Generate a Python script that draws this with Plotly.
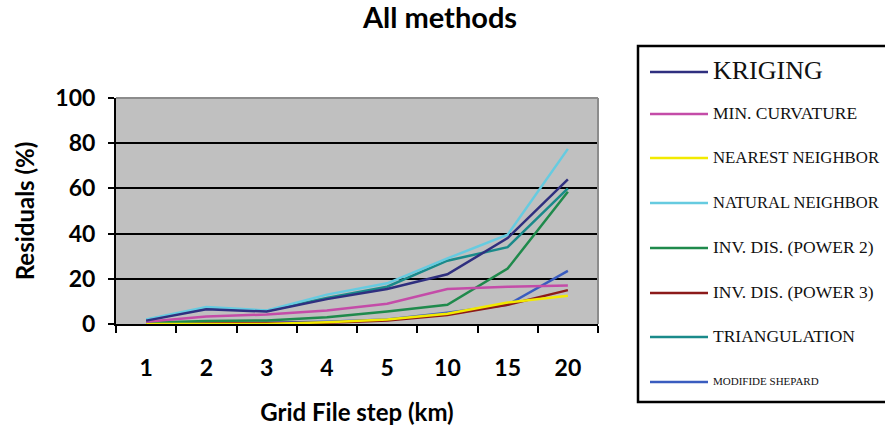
import plotly.graph_objects as go

# Grid step categories (km)
steps = ["1", "2", "3", "4", "5", "10", "15", "20"]

# Residuals (%) per interpolation method
kriging = [1.5, 6.5, 5.5, 11.0, 15.5, 22.0, 38.0, 64.0]
min_curvature = [1.0, 3.3, 4.2, 6.0, 9.0, 15.5, 16.5, 17.0]
nearest_neighbor = [0.0, 0.0, 0.0, 0.8, 2.0, 4.5, 9.5, 12.5]
natural_neighbor = [2.0, 7.5, 6.0, 13.0, 18.0, 29.0, 39.5, 77.5]
inv_dis_p2 = [0.5, 1.3, 1.6, 3.0, 5.5, 8.5, 24.5, 58.5]
inv_dis_p3 = [0.1, 0.2, 0.3, 0.6, 1.5, 4.0, 8.5, 15.0]
triangulation = [1.8, 7.0, 5.8, 11.5, 16.5, 28.0, 34.0, 60.0]
modified_shepard = [0.2, 0.3, 0.5, 1.0, 2.0, 5.0, 8.5, 23.5]

series = [
    ("KRIGING", kriging, "#2f2f7f", 26),
    ("MIN. CURVATURE", min_curvature, "#c44ca8", 17.5),
    ("NEAREST NEIGHBOR", nearest_neighbor, "#f2ea00", 16.8),
    ("NATURAL NEIGHBOR", natural_neighbor, "#66cbe0", 16.5),
    ("INV. DIS. (POWER 2)", inv_dis_p2, "#1f8a4c", 17.5),
    ("INV. DIS. (POWER 3)", inv_dis_p3, "#8c1a1a", 17.5),
    ("TRIANGULATION", triangulation, "#1a8a8a", 17.5),
    ("MODIFIDE SHEPARD", modified_shepard, "#3a5cbf", 11),
]

W, H = 885, 433
L, R, T, B = 116, 598, 98, 324  # plot area edges in pixels


def px_x(px):
    return (px - L) / (R - L)


def px_y(py):
    return (B - py) / (B - T)


fig = go.Figure()
# draw in reverse so KRIGING sits on top
for name, vals, color, _ in reversed(series):
    fig.add_trace(go.Scatter(
        x=steps, y=vals, name=name, mode="lines",
        line=dict(color=color, width=2.5), showlegend=False,
    ))

shapes = [
    # light frame on top and right of plot area (covers the 100 gridline)
    dict(type="line", xref="paper", yref="paper", x0=0, x1=1, y0=1, y1=1,
         line=dict(color="#8c8c8c", width=2), layer="above"),
    dict(type="line", xref="paper", yref="paper", x0=1, x1=1, y0=0, y1=1,
         line=dict(color="#8c8c8c", width=2), layer="above"),
    # legend frame
    dict(type="rect", xref="paper", yref="paper",
         x0=px_x(638), x1=px_x(900), y0=px_y(402), y1=px_y(46),
         line=dict(color="black", width=2.5), fillcolor="white", layer="above"),
]

annotations = []
legend_rows = [72, 114, 158, 203, 248, 293, 337, 382]
for (name, _, color, fsize), ry in zip(series, legend_rows):
    shapes.append(dict(type="line", xref="paper", yref="paper",
                       x0=px_x(650), x1=px_x(708), y0=px_y(ry), y1=px_y(ry),
                       line=dict(color=color, width=2.5), layer="above"))
    annotations.append(dict(
        text=name, xref="paper", yref="paper", x=px_x(711), y=px_y(ry - 1),
        xanchor="left", yanchor="middle", showarrow=False,
        font=dict(family="Liberation Serif", size=fsize, color="#111111"),
    ))

fig.update_layout(
    width=W, height=H,
    margin=dict(l=L, r=W - R, t=T, b=H - B),
    paper_bgcolor="white",
    plot_bgcolor="#c0c0c0",
    font=dict(family="Lato", color="black"),
    title=dict(text="All methods", x=440 / W, xanchor="center",
               y=1 - 18 / H, yanchor="middle", yref="container",
               font=dict(family="Lato", size=29, weight="bold")),
    shapes=shapes,
    annotations=annotations,
)

fig.update_xaxes(
    type="category", range=[-0.5, len(steps) - 0.5],
    tickson="boundaries", ticks="outside", ticklen=7,
    tickwidth=2, tickcolor="black", showline=True, linecolor="black",
    linewidth=2, showgrid=False, ticklabelstandoff=22,
    tickfont=dict(family="Lato", size=23, weight="bold"),
    title=dict(text="Grid File step (km)", standoff=25,
               font=dict(family="Lato", size=24, weight="bold")),
)
fig.update_yaxes(
    range=[0, 100], dtick=20, ticks="outside", ticklen=6, tickwidth=2,
    tickcolor="black", showline=True, linecolor="black", linewidth=2,
    showgrid=True, gridcolor="black", gridwidth=2, zeroline=False,
    ticklabelstandoff=8,
    tickfont=dict(family="Lato", size=23, weight="bold"),
    title=dict(text="Residuals (%)", standoff=14,
               font=dict(family="Lato", size=24, weight="bold")),
)

fig.write_html("out.html")
